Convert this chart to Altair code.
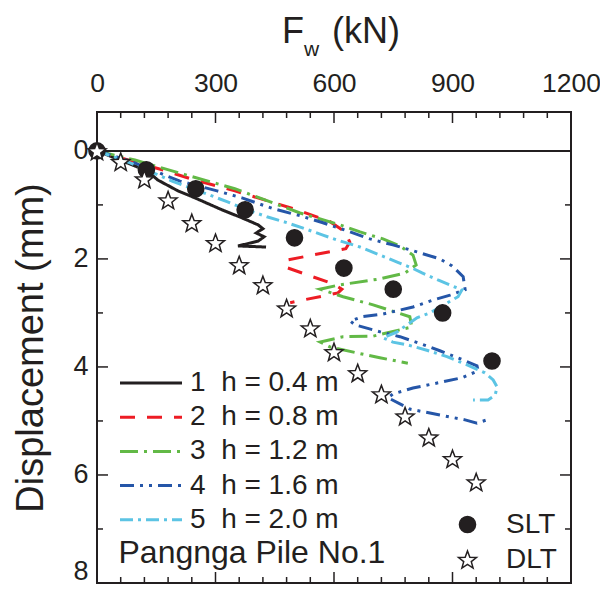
import altair as alt
import pandas as pd

# ---------------- data ----------------
labels = ["1\u00a0\u00a0h = 0.4 m", "2\u00a0\u00a0h = 0.8 m", "3\u00a0\u00a0h = 1.2 m",
          "4\u00a0\u00a0h = 1.6 m", "5\u00a0\u00a0h = 2.0 m"]

F1 = [0, 127, 154, 205, 248, 316, 367, 408, 420, 403, 423, 408, 357, 428]
D1 = [0, 0.37, 0.54, 0.74, 0.87, 1.09, 1.24, 1.37, 1.44, 1.52, 1.59, 1.67, 1.76, 1.78]

F2 = [0, 89, 165, 248, 349, 438, 506, 590, 628, 640, 630, 481, 476, 597, 620, 610, 489]
D2 = [0, 0.19, 0.35, 0.54, 0.74, 0.94, 1.09, 1.31, 1.50, 1.69, 1.81, 2.02, 2.15, 2.46, 2.56, 2.63, 2.81]

F3 = [0, 96, 223, 349, 514, 615, 666, 724, 767, 800, 808, 780, 716, 615, 565, 623, 699, 792,
      797, 699, 623, 565, 590, 683, 716, 787]
D3 = [0, 0.17, 0.44, 0.70, 1.15, 1.37, 1.50, 1.63, 1.76, 1.93, 2.11, 2.26, 2.37, 2.48, 2.56, 2.70,
      2.85, 3.07, 3.26, 3.43, 3.44, 3.54, 3.63, 3.78, 3.83, 3.93]

F4 = [0, 84, 210, 304, 367, 446, 514, 572, 633, 691, 749, 810, 868, 899, 927, 932, 894, 851, 800,
      724, 671, 641, 653, 717, 767, 835, 868, 927, 962, 965, 924, 873, 800, 749, 737, 792, 868, 932,
      962, 987]
D4 = [0, 0.19, 0.56, 0.74, 0.87, 1.07, 1.20, 1.33, 1.48, 1.63, 1.74, 1.87, 2.00, 2.13, 2.33, 2.57,
      2.67, 2.76, 2.89, 3.02, 3.07, 3.15, 3.22, 3.35, 3.44, 3.61, 3.70, 3.87, 3.98, 4.07, 4.20, 4.28,
      4.39, 4.50, 4.57, 4.78, 4.89, 4.98, 5.04, 4.98]

F5 = [0, 84, 190, 279, 329, 380, 430, 481, 522, 572, 608, 666, 717, 760, 798, 823, 863, 906, 924,
      914, 843, 810, 760, 724, 749, 785, 835, 886, 937, 982, 1003, 1013, 1008, 990, 952]
D5 = [0, 0.22, 0.56, 0.80, 0.94, 1.09, 1.22, 1.33, 1.43, 1.56, 1.65, 1.78, 1.93, 2.06, 2.17, 2.26,
      2.39, 2.52, 2.57, 2.70, 3.00, 3.09, 3.35, 3.46, 3.54, 3.59, 3.69, 3.81, 3.96, 4.11, 4.24, 4.37,
      4.52, 4.61, 4.61]

SLT_F = [0, 125, 250, 375, 500, 625, 750, 875, 1000]
SLT_D = [0, 0.35, 0.70, 1.09, 1.61, 2.17, 2.56, 3.00, 3.89]

DLT_F = [0, 60, 120, 180, 240, 300, 360, 420, 480, 540, 600, 660, 720, 780, 840, 900, 960]
DLT_D = [0, 0.20, 0.52, 0.91, 1.33, 1.70, 2.11, 2.48, 2.91, 3.28, 3.72, 4.11, 4.50, 4.91, 5.30,
         5.70, 6.13]

x_major = [0, 300, 600, 900, 1200]
x_minor = [60, 120, 180, 240, 360, 420, 480, 540, 660, 720, 780, 840, 960, 1020, 1080, 1140]
y_major = [0, 2, 4, 6, 8]
y_minor = [1, 3, 5, 7]

# ---------------- styling ----------------
FONT = "Liberation Sans"
INK = "#231F20"
colors = [INK, "#ED1C24", "#62B946", "#2556A8", "#5CC4E4"]
dashes = [[1, 0], [15, 12], [18, 6, 3, 6], [14, 6, 3, 6, 3, 6], [13, 5, 3, 5]]
STAR = ("M0,-0.905L0.247,-0.245L0.951,-0.214L0.399,0.225L0.588,0.904L0,0.515"
        "L-0.588,0.904L-0.399,0.225L-0.951,-0.214L-0.247,-0.245Z")
W, H = 474, 471

rows = []
for lab, Fs, Ds in zip(labels, [F1, F2, F3, F4, F5], [D1, D2, D3, D4, D5]):
    for i, (f, d) in enumerate(zip(Fs, Ds)):
        rows.append({"series": lab, "i": i, "F": f, "D": d})
lines_df = pd.DataFrame(rows)

pts_df = pd.DataFrame({
    "test": ["SLT"] * len(SLT_F) + ["DLT"] * len(DLT_F),
    "F": SLT_F + DLT_F,
    "D": SLT_D + DLT_D,
})

xscale = alt.Scale(domain=[0, 1200], nice=False, zero=False)
yscale = alt.Scale(domain=[-0.72, 8], reverse=True, nice=False, zero=False)

xaxis = alt.Axis(orient="top", values=x_major, ticks=False, domain=False, grid=False,
                 labelFontSize=26.5, labelFont=FONT, labelColor=INK, labelPadding=15,
                 labelFlush=False, title=None, format="d")
yaxis = alt.Axis(orient="left", values=y_major, ticks=False, domain=False, grid=False,
                 labelFontSize=27, labelFont=FONT, labelColor=INK, labelPadding=9,
                 labelBaseline=alt.condition("datum.value == 8", alt.value("bottom"),
                                             alt.value("middle")),
                 labelOffset=alt.condition("datum.value == 8", alt.value(2), alt.value(0)),
                 labelFlush=False, format="d", title="Displacement (mm)",
                 titleFont=FONT, titleFontSize=38, titleFontWeight="normal",
                 titleColor=INK, titlePadding=22)

leg1 = alt.Legend(title="Pangnga Pile No.1", titleOrient="bottom", titleAnchor="start",
                  orient="none", legendX=21.5, legendY=257, symbolType="stroke",
                  symbolSize=3844, symbolStrokeWidth=3, clipHeight=28, rowPadding=6.2,
                  labelOffset=6.5, labelFontSize=28, labelFont=FONT, labelColor=INK,
                  titleFontSize=32, titleFont=FONT, titleFontWeight="normal",
                  titleColor=INK, titlePadding=4, padding=0, labelLimit=400, titleLimit=400)

leg2 = alt.Legend(orient="none", legendX=356.5, legendY=398.5, rowPadding=7,
                  labelOffset=24.5, labelFontSize=28, labelFont=FONT, labelColor=INK,
                  symbolStrokeWidth=1.5, padding=0)

def X(field):
    return alt.X(field, scale=xscale, axis=xaxis)

def Y(field):
    return alt.Y(field, scale=yscale, axis=yaxis)

lines = alt.Chart(lines_df).mark_line(strokeWidth=3).encode(
    x=X("F:Q"),
    y=Y("D:Q"),
    color=alt.Color("series:N", scale=alt.Scale(domain=labels, range=colors), legend=leg1),
    strokeDash=alt.StrokeDash("series:N", scale=alt.Scale(domain=labels, range=dashes), legend=leg1),
    order=alt.Order("i:Q"),
)

test_dom = ["SLT", "DLT"]
pts = alt.Chart(pts_df).mark_point(filled=True, strokeWidth=1.5, opacity=1).encode(
    x=X("F:Q"),
    y=Y("D:Q"),
    shape=alt.Shape("test:N", scale=alt.Scale(domain=test_dom, range=["circle", STAR]),
                    legend=leg2, title=None),
    fill=alt.Fill("test:N", scale=alt.Scale(domain=test_dom, range=[INK, "white"]),
                  legend=leg2, title=None),
    stroke=alt.Stroke("test:N", scale=alt.Scale(domain=test_dom, range=[INK, INK]),
                      legend=leg2, title=None),
    size=alt.Size("test:N", scale=alt.Scale(domain=test_dom, range=[260, 360]),
                  legend=leg2, title=None),
)

zero_line = alt.Chart(pd.DataFrame({"z": [0]})).mark_rule(color=INK, strokeWidth=2).encode(
    y=Y("z:Q"))

def xticks(vals, length, top=True):
    y0, y1 = (0, length) if top else (H, H - length)
    return alt.Chart(pd.DataFrame({"v": vals})).mark_rule(color=INK, strokeWidth=1.5).encode(
        x=X("v:Q"), y=alt.value(y0), y2=alt.value(y1))

def yticks(vals, length, left=True):
    x0, x1 = (0, length) if left else (W, W - length)
    return alt.Chart(pd.DataFrame({"v": vals})).mark_rule(color=INK, strokeWidth=1.5).encode(
        y=Y("v:Q"), x=alt.value(x0), x2=alt.value(x1))

ticks = [xticks(x_major, 11), xticks(x_minor, 6), xticks(x_major, 11, False), xticks(x_minor, 6, False),
         yticks(y_major, 11), yticks(y_minor, 6), yticks(y_major, 11, False), yticks(y_minor, 6, False)]

one = alt.Data(values=[{}])
t_F = alt.Chart(one).mark_text(text="F", font=FONT, fontSize=36, color=INK, align="left",
                               baseline="alphabetic").encode(x=alt.value(185), y=alt.value(-69))
t_w = alt.Chart(one).mark_text(text="w", font=FONT, fontSize=21, color=INK, align="left",
                               baseline="alphabetic").encode(x=alt.value(207), y=alt.value(-56))
t_kN = alt.Chart(one).mark_text(text="(kN)", font=FONT, fontSize=36, color=INK, align="left",
                                baseline="alphabetic").encode(x=alt.value(235), y=alt.value(-69))

chart = alt.layer(lines, zero_line, *ticks, pts, t_F, t_w, t_kN).properties(
    width=W, height=H,
    padding={"left": 89, "top": 104, "right": 29, "bottom": 4},
    autosize=alt.AutoSizeParams(type="none"),
).configure_view(stroke=INK, strokeWidth=2)

chart.save("out.html", embed_options={"renderer": "svg", "actions": False})
